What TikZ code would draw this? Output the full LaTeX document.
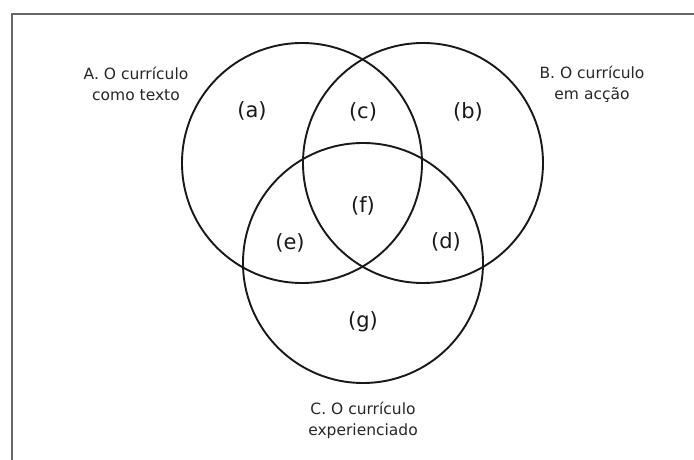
\documentclass[tikz,border=0pt]{standalone}
\usepackage{fontspec}
\setmainfont{DejaVu Sans}
\begin{document}
\begin{tikzpicture}[x=1pt,y=-1pt,
  venn/.style={circle,draw=black!90,line width=1.9pt,inner sep=0pt,minimum size=240pt},
  caption/.style={align=center,text=black!85,font=\fontsize{15.5}{21}\selectfont,inner sep=0pt},
  region/.style={text=black!90,font=\fontsize{21}{24}\selectfont,inner sep=0pt},
  frameline/.style={draw=black!60,line width=1.4pt}]
\useasboundingbox (0,0) rectangle (694,460);
\coordinate (ftl) at (12,14);
\coordinate (ftr) at (694,14);
\coordinate (fbl) at (12,460);
\draw[frameline] (fbl) -- (ftl) -- (ftr);
\node[venn] (A) at (302,163) {};
\node[venn] (B) at (423,163) {};
\node[venn] (C) at (363,263) {};
\node[caption] (la) at (136,84) {A. O currículo\\como texto};
\node[caption] (lb) at (592,84) {B. O currículo\\em acção};
\node[caption] (lc) at (363,420) {C. O currículo\\experienciado};
\node[region] (ra) at (252,111) {(a)};
\node[region] (rc) at (363,112) {(c)};
\node[region] (rb) at (468,112) {(b)};
\node[region] (rf) at (363,206) {(f)};
\node[region] (re) at (290,243) {(e)};
\node[region] (rd) at (446,242) {(d)};
\node[region] (rg) at (363,322) {(g)};
\end{tikzpicture}
\end{document}
